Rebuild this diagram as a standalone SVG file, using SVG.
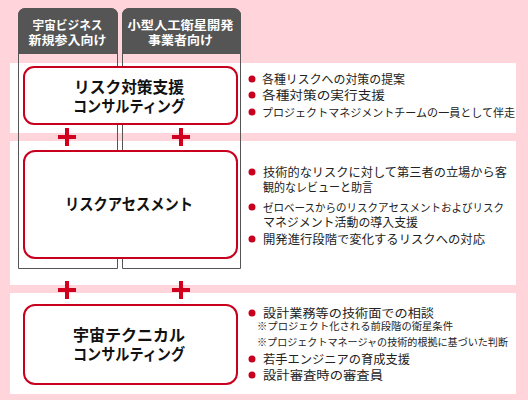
<svg xmlns="http://www.w3.org/2000/svg" width="528" height="400" viewBox="0 0 528 400">
<defs>
<style>
.band{fill:#ffffff}
.col{fill:none;stroke:#555555;stroke-width:1}
.hdr{fill:#555555}
.htxt{font-family:"Noto Sans CJK JP","Noto Sans",sans-serif;font-size:12px;font-weight:bold;fill:#ffffff;text-anchor:middle}
.box{fill:#ffffff;stroke:#c8001e;stroke-width:2}
.btxt{font-family:"Noto Sans CJK JP","Noto Sans",sans-serif;font-size:16px;font-weight:bold;fill:#111111;text-anchor:middle}
.dot{fill:#c8001e}
.li{font-family:"Noto Sans CJK JP","Noto Sans",sans-serif;font-size:12px;fill:#222222}
.sm{font-size:11px}
.note{font-family:"Noto Sans CJK JP","Noto Sans",sans-serif;font-size:10px;fill:#222222}
.plus{stroke:#d0001e;stroke-width:4;fill:none}
</style>
</defs>
<rect x="0" y="0" width="528" height="400" fill="#ffd4db"/>
<g id="bands">
<rect class="band" x="10" y="63" width="506" height="70"/>
<rect class="band" x="10" y="141" width="506" height="144"/>
<rect class="band" x="10" y="293" width="506" height="101"/>
</g>
<g id="col-left">
<path class="col" d="M18.5,268.5 V16 Q18.5,8.5 26,8.5 H110 Q117.5,8.5 117.5,16 V268.5 Z"/>
<path class="hdr" d="M18,54 V16 Q18,8 26,8 H110 Q118,8 118,16 V54 Z"/>
<text class="htxt" x="67.5" y="30" textLength="70" lengthAdjust="spacingAndGlyphs">宇宙ビジネス</text>
<text class="htxt" x="67.5" y="44.5" textLength="78" lengthAdjust="spacingAndGlyphs">新規参入向け</text>
</g>
<g id="col-right">
<path class="col" d="M122.5,268.5 V16 Q122.5,8.5 130,8.5 H232 Q240.5,8.5 240.5,16 V268.5 Z"/>
<path class="hdr" d="M122,54 V16 Q122,8 130,8 H232 Q241,8 241,16 V54 Z"/>
<text class="htxt" x="180.5" y="30" textLength="106" lengthAdjust="spacingAndGlyphs">小型人工衛星開発</text>
<text class="htxt" x="180.5" y="44.5" textLength="65" lengthAdjust="spacingAndGlyphs">事業者向け</text>
</g>
<g id="node-risk-consulting">
<rect class="box" x="24" y="67" width="213" height="57" rx="10"/>
<text class="btxt" x="129" y="93" textLength="110" lengthAdjust="spacingAndGlyphs">リスク対策支援</text>
<text class="btxt" x="129" y="112" textLength="112" lengthAdjust="spacingAndGlyphs">コンサルティング</text>
<circle class="dot" cx="252" cy="79" r="3.5"/>
<text class="li" x="262" y="83.5" textLength="143" lengthAdjust="spacingAndGlyphs">各種リスクへの対策の提案</text>
<circle class="dot" cx="252" cy="95" r="3.5"/>
<text class="li" x="262" y="99.5" textLength="123" lengthAdjust="spacingAndGlyphs">各種対策の実行支援</text>
<circle class="dot" cx="252" cy="112" r="3.5"/>
<text class="li sm" x="262" y="116.5" textLength="253" lengthAdjust="spacingAndGlyphs">プロジェクトマネジメントチームの一員として伴走</text>
</g>
<g id="node-risk-assessment">
<rect class="box" x="24" y="151" width="213" height="107" rx="11"/>
<text class="btxt" x="129" y="210" textLength="128" lengthAdjust="spacingAndGlyphs">リスクアセスメント</text>
<circle class="dot" cx="252" cy="172" r="3.5"/>
<text class="li" x="263" y="176.5" textLength="244" lengthAdjust="spacingAndGlyphs">技術的なリスクに対して第三者の立場から客</text>
<text class="li" x="263" y="192" textLength="110" lengthAdjust="spacingAndGlyphs">観的なレビューと助言</text>
<circle class="dot" cx="252" cy="207" r="3.5"/>
<text class="li sm" x="263" y="211.5" textLength="241" lengthAdjust="spacingAndGlyphs">ゼロベースからのリスクアセスメントおよびリスク</text>
<text class="li" x="263" y="227" textLength="155" lengthAdjust="spacingAndGlyphs">マネジメント活動の導入支援</text>
<circle class="dot" cx="252" cy="239" r="3.5"/>
<text class="li" x="263" y="243.5" textLength="222" lengthAdjust="spacingAndGlyphs">開発進行段階で変化するリスクへの対応</text>
</g>
<g id="node-space-technical">
<rect class="box" x="24" y="305" width="213" height="79" rx="11"/>
<text class="btxt" x="129" y="341" textLength="112" lengthAdjust="spacingAndGlyphs">宇宙テクニカル</text>
<text class="btxt" x="129" y="360" textLength="112" lengthAdjust="spacingAndGlyphs">コンサルティング</text>
<circle class="dot" cx="252" cy="313" r="3.5"/>
<text class="li" x="263" y="317.5" textLength="171" lengthAdjust="spacingAndGlyphs">設計業務等の技術面での相談</text>
<text class="note" x="257" y="330" textLength="196" lengthAdjust="spacingAndGlyphs">※プロジェクト化される前段階の衛星条件</text>
<text class="note" x="257" y="346" textLength="251" lengthAdjust="spacingAndGlyphs">※プロジェクトマネージャの技術的根拠に基づいた判断</text>
<circle class="dot" cx="252" cy="359" r="3.5"/>
<text class="li" x="263" y="363.5" textLength="147" lengthAdjust="spacingAndGlyphs">若手エンジニアの育成支援</text>
<circle class="dot" cx="252" cy="375" r="3.5"/>
<text class="li" x="263" y="379.5" textLength="120" lengthAdjust="spacingAndGlyphs">設計審査時の審査員</text>
</g>
<g id="connectors">
<path class="plus" d="M58,137 H76 M67,128 V146"/>
<path class="plus" d="M172,137 H190 M181,128 V146"/>
<path class="plus" d="M58,290 H76 M67,281 V299"/>
<path class="plus" d="M172,290 H190 M181,281 V299"/>
</g>
</svg>
